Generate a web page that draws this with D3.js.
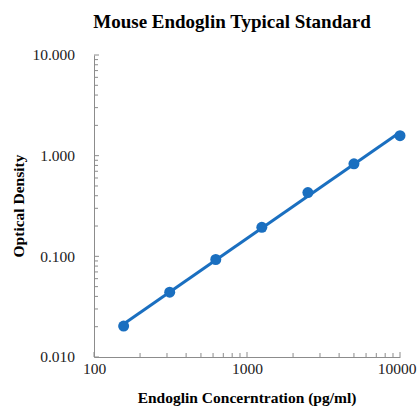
<!DOCTYPE html>
<html><head><meta charset="utf-8">
<script src="https://cdn.jsdelivr.net/npm/d3@7"></script>
<style>body{margin:0;background:#fff}</style>
</head><body>
<svg id="c" width="417" height="407"></svg>
<script>
const concentrations = [156.25, 312.5, 625, 1250, 2500, 5000, 10000];
const odValues = [0.0203, 0.044, 0.093, 0.194, 0.43, 0.83, 1.58];
const yTickValues = [0.01, 0.1, 1, 10];
const yTickLabels = ["0.010", "0.100", "1.000", "10.000"];
const xTickValues = [100, 1000, 10000];
const xTickLabels = ["100", "1000", "10000"];

const svg = d3.select("#c");
const color = "#1a6fc0";
const axisColor = "#8c8c8c";
const font = "'Liberation Serif','Times New Roman',serif";

const x = d3.scaleLog().domain([100, 10000]).range([94, 400]);
const y = d3.scaleLog().domain([0.01, 10]).range([357, 55]);

// title
svg.append("text").attr("x", 232).attr("y", 28).attr("text-anchor", "middle")
  .attr("font-family", font).attr("font-weight", "bold").attr("font-size", 19)
  .text("Mouse Endoglin Typical Standard");

// axes
const yAxis = d3.axisLeft(y).tickValues(yTickValues).tickFormat((d,i)=>yTickLabels[i]).tickSize(0).tickPadding(19);
const gy = svg.append("g").attr("transform","translate(94,0)").call(yAxis);
gy.select(".domain").attr("stroke", axisColor);
gy.selectAll("text").attr("font-family", font).attr("font-size", 15.5).attr("fill","#222");

const minorY = [];
[0.01,0.1,1].forEach(b=>{for(let k=2;k<=9;k++) minorY.push(b*k);});
gy.selectAll(".mny").data(minorY).enter().append("line")
  .attr("x1",0).attr("x2",4).attr("y1",d=>y(d)).attr("y2",d=>y(d)).attr("stroke",axisColor);
gy.selectAll(".mjy").data(yTickValues).enter().append("line")
  .attr("x1",0).attr("x2",5).attr("y1",d=>y(d)).attr("y2",d=>y(d)).attr("stroke",axisColor);

const xAxis = d3.axisBottom(x).tickValues(xTickValues).tickFormat((d,i)=>xTickLabels[i]).tickSize(0).tickPadding(6);
const gx = svg.append("g").attr("transform","translate(0,357)").call(xAxis);
gx.select(".domain").attr("stroke", axisColor);
gx.selectAll("text").attr("font-family", font).attr("font-size", 15.5).attr("fill","#222");
gx.selectAll(".tick").filter(d=>d===10000).select("text").attr("text-anchor","end").attr("x", 16);
const minorX = [];
[100,1000].forEach(b=>{for(let k=2;k<=9;k++) minorX.push(b*k);});
gx.selectAll(".mnx").data(minorX).enter().append("line")
  .attr("y1",0).attr("y2",-4).attr("x1",d=>x(d)).attr("x2",d=>x(d)).attr("stroke",axisColor);
gx.selectAll(".mjx").data(xTickValues).enter().append("line")
  .attr("y1",0).attr("y2",-5).attr("x1",d=>x(d)).attr("x2",d=>x(d)).attr("stroke",axisColor);

// axis titles
svg.append("text").attr("x", 247).attr("y", 403).attr("text-anchor","middle")
  .attr("font-family", font).attr("font-weight","bold").attr("font-size", 15.5)
  .text("Endoglin Concerntration (pg/ml)");
svg.append("text").attr("transform","translate(24,206) rotate(-90)").attr("text-anchor","middle")
  .attr("font-family", font).attr("font-weight","bold").attr("font-size", 15.5)
  .text("Optical Density");

// power trendline (least squares in log-log)
const lx = concentrations.map(Math.log10), ly = odValues.map(Math.log10);
const n = lx.length, mx = d3.mean(lx), my = d3.mean(ly);
const slope = d3.sum(lx.map((v,i)=>(v-mx)*(ly[i]-my))) / d3.sum(lx.map(v=>(v-mx)*(v-mx)));
const icpt = my - slope*mx;
const fitX = [concentrations[0], concentrations[n-1]];
svg.append("path").datum(fitX)
  .attr("d", d3.line().x(d=>x(d)).y(d=>y(Math.pow(10, icpt + slope*Math.log10(d)))))
  .attr("stroke", color).attr("stroke-width", 3).attr("fill","none");

svg.selectAll(".pt").data(concentrations).enter().append("circle")
  .attr("cx", d=>x(d)).attr("cy", (d,i)=>y(odValues[i])).attr("r", 5.5).attr("fill", color);
</script>
</body></html>
